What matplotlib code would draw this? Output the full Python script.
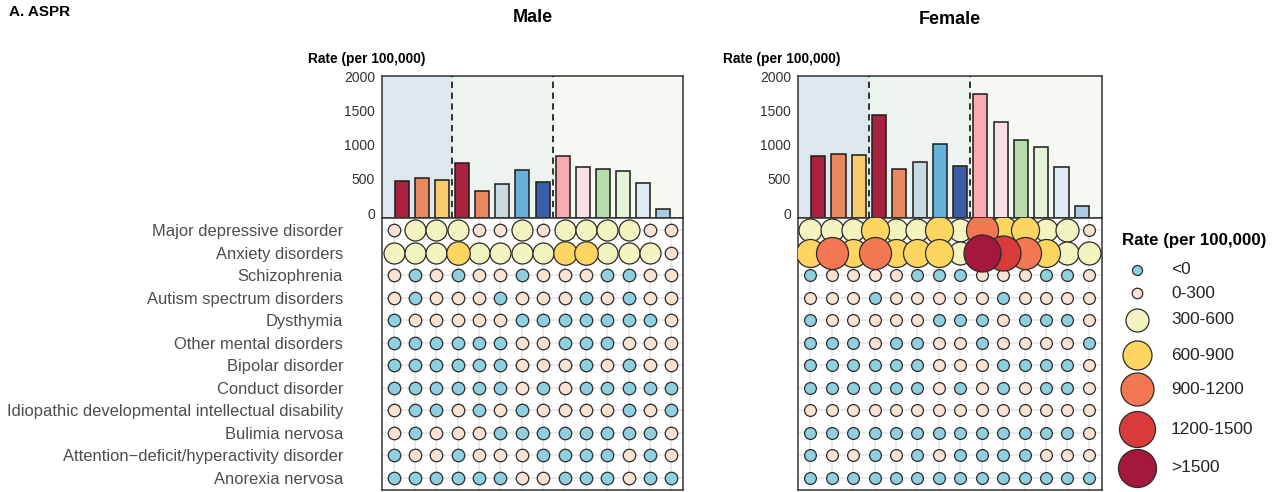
import numpy as np
import matplotlib.pyplot as plt

plt.rcParams['font.family'] = ['Liberation Sans', 'DejaVu Sans']

disorders = [
    "Major depressive disorder",
    "Anxiety disorders",
    "Schizophrenia",
    "Autism spectrum disorders",
    "Dysthymia",
    "Other mental disorders",
    "Bipolar disorder",
    "Conduct disorder",
    "Idiopathic developmental intellectual disability",
    "Bulimia nervosa",
    "Attention\u2212deficit/hyperactivity disorder",
    "Anorexia nervosa",
]

rate_bins = ["<0", "0-300", "300-600", "600-900", "900-1200", "1200-1500", ">1500"]

# ASPR per 100,000 for the 14 groups
male_rates = [465, 515, 490, 735, 330, 420, 625, 460, 830, 675, 645, 615, 440, 60]
female_rates = [840, 870, 855, 1430, 650, 745, 1015, 690, 1735, 1335, 1070, 965, 670, 110]

# rate bin (index into rate_bins) for each disorder x group
male_bins = [
    [1, 2, 2, 2, 1, 1, 2, 1, 2, 2, 2, 2, 1, 1],
    [2, 2, 2, 3, 2, 2, 2, 2, 3, 3, 2, 2, 2, 1],
    [1, 0, 1, 0, 1, 1, 0, 1, 1, 1, 0, 0, 1, 1],
    [1, 0, 1, 1, 1, 0, 1, 1, 1, 0, 1, 0, 1, 1],
    [0, 1, 1, 1, 1, 1, 0, 0, 0, 0, 0, 0, 0, 1],
    [0, 0, 0, 0, 0, 0, 1, 1, 0, 0, 0, 1, 1, 1],
    [0, 0, 0, 0, 0, 0, 1, 1, 1, 0, 1, 0, 1, 1],
    [0, 0, 0, 0, 0, 0, 1, 0, 1, 0, 0, 0, 0, 0],
    [1, 0, 0, 1, 0, 1, 0, 1, 1, 1, 1, 0, 1, 0],
    [1, 0, 1, 1, 1, 0, 0, 0, 0, 0, 0, 0, 0, 1],
    [0, 1, 1, 0, 1, 1, 1, 0, 0, 0, 0, 1, 0, 1],
    [0, 0, 0, 0, 0, 0, 1, 1, 0, 0, 0, 1, 0, 0],
]
female_bins = [
    [2, 2, 2, 3, 2, 2, 3, 2, 4, 3, 3, 2, 2, 1],
    [3, 4, 3, 4, 3, 3, 3, 2, 6, 5, 4, 3, 2, 2],
    [0, 1, 1, 1, 1, 0, 0, 0, 1, 1, 1, 0, 0, 1],
    [1, 1, 1, 0, 1, 1, 1, 1, 1, 0, 1, 1, 1, 1],
    [0, 1, 1, 1, 1, 1, 0, 0, 0, 1, 0, 0, 0, 1],
    [0, 0, 0, 1, 0, 0, 1, 1, 0, 1, 1, 1, 1, 0],
    [0, 0, 0, 0, 0, 0, 1, 1, 1, 0, 0, 0, 0, 1],
    [0, 0, 0, 0, 0, 0, 1, 0, 1, 0, 1, 0, 0, 1],
    [1, 1, 1, 1, 1, 1, 1, 1, 1, 1, 1, 1, 1, 1],
    [0, 0, 0, 0, 0, 0, 0, 0, 0, 0, 0, 0, 0, 1],
    [0, 1, 1, 0, 1, 0, 1, 0, 0, 0, 0, 1, 1, 1],
    [0, 0, 0, 0, 0, 0, 0, 0, 0, 0, 0, 0, 0, 0],
]

BIN_COLORS = ['#8ecfe0', '#fbe2d2', '#f3f4bf', '#fdd560', '#f27853', '#d93b3b', '#a5173d']
BAR_COLORS = ['#a8233f', '#e8885e', '#f8cc6c', '#a8233f', '#e8885e', '#c8dbe3', '#66b1da',
              '#3b5ea8', '#f5abb0', '#fde0e1', '#b6dcae', '#e7f3d9', '#deebf4', '#a8cbe6']
BAND_COLORS = ['#dce8ee', '#edf3ef', '#f6f8f2']
BAND_EDGES = [0, 3.5, 8.5, 15]

# marker diameters in pixels per bin
MALE_DIAM = [12.5, 12.5, 21, 23.5, 28, 32, 35]
FEMALE_DIAM = [11.8, 11.8, 23, 28, 32, 35, 37]
LEGEND_DIAM = [10, 10.5, 23, 29, 33, 36, 38]

W, H = 1283, 492
fig = plt.figure(figsize=(W / 100, H / 100), dpi=100)


def px_axes(x0, y0, x1, y1):
    return fig.add_axes([x0 / W, 1 - y1 / H, (x1 - x0) / W, (y1 - y0) / H])


def bar_panel(ax, rates):
    n = len(rates)
    x = np.arange(1, n + 1)
    for (a, b), c in zip(zip(BAND_EDGES[:-1], BAND_EDGES[1:]), BAND_COLORS):
        ax.axvspan(a, b, color=c, lw=0, zorder=0)
    ax.set_xlim(0, 15)
    ax.set_ylim(-70, 2000)
    base = ax.get_ylim()[0]
    ax.bar(x, np.array(rates) - base, bottom=base, width=0.7, color=BAR_COLORS,
           edgecolor='#1a1a1a', linewidth=1.1, zorder=2)
    for xv in BAND_EDGES[1:-1]:
        ax.axvline(xv, color='#222222', ls=(0, (3.5, 2.5)), lw=1.3, zorder=3)
    ax.set_xticks([])
    ax.set_yticks([0, 500, 1000, 1500, 2000])
    ax.tick_params(axis='y', length=0, pad=5, labelsize=10, labelcolor='#333333')
    for s in ax.spines.values():
        s.set_color('#333333')
        s.set_linewidth(1.1)
    ax.text(-0.246, 1.12, "Rate (per 100,000)", transform=ax.transAxes,
            fontsize=9.9, fontweight='bold', ha='left', va='center')


def dot_panel(ax, bins, diam, xlim):
    bins = np.array(bins)
    nrow, ncol = bins.shape
    cols, rows = np.meshgrid(np.arange(ncol), np.arange(nrow))
    yy = nrow - 1 - rows
    # smaller circles first so the large ones sit on top
    for k in range(len(rate_bins)):
        m = bins == k
        if not m.any():
            continue
        ax.scatter(cols[m], yy[m], s=(diam[k] * 0.72) ** 2, color=BIN_COLORS[k],
                   edgecolor='#2b2b2b', linewidth=0.9, zorder=3 + k)
    ax.set_xlim(*xlim)
    ax.set_ylim(-0.55, nrow - 0.45)
    ax.set_xticks(np.arange(ncol))
    ax.set_yticks(np.arange(nrow))
    ax.set_xticklabels([])
    ax.grid(True, color='#e8e8e8', lw=1.3, zorder=0)
    ax.set_axisbelow(True)
    ax.tick_params(length=0)
    for s in ax.spines.values():
        s.set_color('#333333')
        s.set_linewidth(1.1)


# male
ax_mb = px_axes(382, 76, 683, 218)
bar_panel(ax_mb, male_rates)
ax_md = px_axes(382, 218, 683, 490)
dot_panel(ax_md, male_bins, MALE_DIAM, (-0.55, 13.55))
ax_md.set_yticklabels(disorders[::-1])
ax_md.tick_params(axis='y', pad=28, labelsize=11.85, labelcolor='#4d4d4d')

# female
ax_fb = px_axes(798, 76, 1102, 218)
bar_panel(ax_fb, female_rates)
ax_fd = px_axes(798, 218, 1102, 490)
dot_panel(ax_fd, female_bins, FEMALE_DIAM, (-0.58, 13.62))
ax_fd.set_yticklabels([])

fig.text(533 / W, 1 - 18 / H, "Male", ha='center', va='center', fontsize=13, fontweight='bold')
fig.text(950 / W, 1 - 20 / H, "Female", ha='center', va='center', fontsize=13, fontweight='bold')
fig.text(9 / W, 1 - 12 / H, "A. ASPR", ha='left', va='center', fontsize=11, fontweight='bold')

# legend drawn in pixel coordinates
ax_leg = px_axes(1108, 220, W, 492)
ax_leg.set_xlim(1108, W)
ax_leg.set_ylim(492, 220)
ax_leg.axis('off')
ax_leg.text(1122, 241, "Rate (per 100,000)", fontsize=12.2, fontweight='bold', ha='left', va='center')
leg_y = [270, 293, 320, 355, 389, 429, 468]
for k, label in enumerate(rate_bins):
    ax_leg.scatter([1137], [leg_y[k]], s=(LEGEND_DIAM[k] * 0.72) ** 2, color=BIN_COLORS[k],
                   edgecolor='#2b2b2b', linewidth=0.9, clip_on=False)
    ax_leg.text(1171, leg_y[k], label, fontsize=12.4, ha='left', va='center', color='#222222')

fig.savefig("out.png", dpi=100)
